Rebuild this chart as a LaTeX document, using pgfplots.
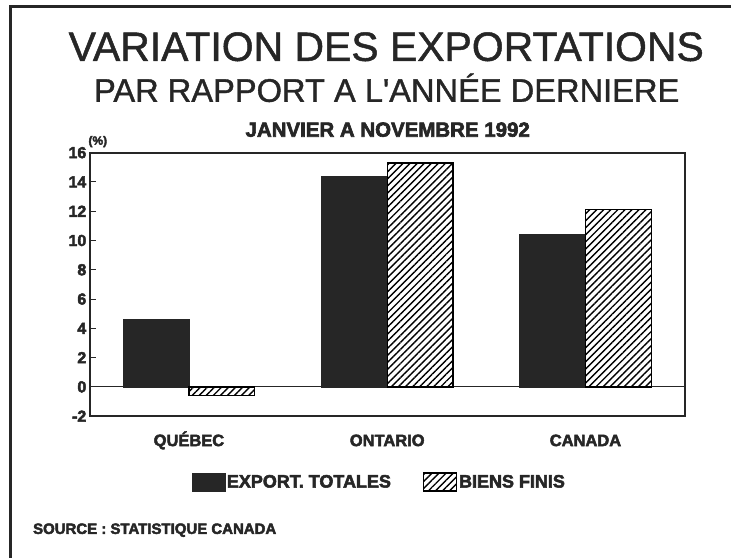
\documentclass[border=0pt]{standalone}
\usepackage{pgfplots}
\pgfplotsset{compat=1.18}
\usepackage{fontspec}
\setmainfont{Liberation Sans}
\newfontfamily\heavy[FakeBold=3]{Liberation Sans Bold}
\newfontfamily\titlefont[FakeBold=1.2]{Liberation Sans}
\usetikzlibrary{patterns.meta}
\definecolor{ink}{HTML}{262626}

\begin{document}
\begin{tikzpicture}[x=1pt,y=1pt]
\path (0,0) rectangle (732,559);
\draw[ink, line width=3pt] (11,0) -- (11,552) -- (732,552);
\node[anchor=base, inner sep=0pt, text=ink, font=\titlefont\fontsize{41}{41}\selectfont] at (387,498) {VARIATION DES EXPORTATIONS};
\node[anchor=base, inner sep=0pt, text=ink, font=\titlefont\fontsize{32.7}{32.7}\selectfont] at (387.5,457) {PAR RAPPORT A L'ANNÉE DERNIERE};
\node[anchor=base, inner sep=0pt, text=ink, font=\heavy\fontsize{20.5}{20.5}\selectfont] at (388.5,422) {JANVIER A NOVEMBRE 1992};
\node[anchor=base, inner sep=0pt, text=ink, font=\heavy\fontsize{12}{12}\selectfont] at (98,414) {(\%)};
\node[anchor=base west, inner sep=0pt, text=ink, font=\heavy\fontsize{15}{15}\selectfont] at (33,24) {SOURCE : STATISTIQUE CANADA};
\begin{axis}[
  at={(90pt,142pt)}, anchor=south west, scale only axis,
  width=596pt, height=264pt,
  xmin=-0.5, xmax=2.5, ymin=-2, ymax=16,
  ybar=0pt, bar width=66pt,
  xtick={0,1,2}, xticklabels={QUÉBEC,ONTARIO,CANADA},
  x tick style={draw=none},
  ytick={-2,0,2,4,6,8,10,12,14,16},
  ytick pos=left,
  y tick style={line width=1pt, ink},
  major tick length=6pt,
  axis line style={line width=1.8pt, ink},
  /pgf/number format/assume math mode=true,
  yticklabel style={font=\heavy\fontsize{16}{16}\selectfont, text=ink},
  xticklabel style={font=\heavy\fontsize{16.5}{16.5}\selectfont, text=ink, anchor=base, yshift=-24pt},
  extra y ticks={0}, extra y tick labels={},
  extra y tick style={grid=major, major grid style={line width=1.2pt, ink}},
  legend columns=2,
  legend image code/.code={\draw[#1] (0pt,-9pt) rectangle (33pt,9pt);},
  legend style={at={(0.4866,-0.25)}, anchor=center, draw=none, fill=none,
    font=\heavy\fontsize{18}{18}\selectfont, text=ink,
    /tikz/every even column/.append style={column sep=30pt}},
]
\addplot[fill=ink, draw=ink] coordinates {(0,4.6) (1,14.4) (2,10.4)};
\addplot[draw=black, line width=1.3pt, pattern={Lines[angle=45,distance=5pt,line width=1.4pt]}] coordinates {(0,-0.6) (1,15.3) (2,12.1)};
\legend{EXPORT. TOTALES, BIENS FINIS}
\end{axis}
\end{tikzpicture}
\end{document}
